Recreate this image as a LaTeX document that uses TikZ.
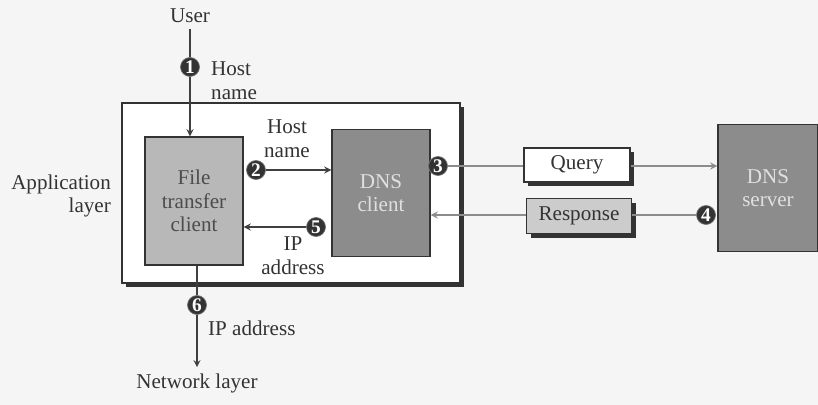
\documentclass[tikz,border=0pt]{standalone}
\usepackage{fontspec}
\setmainfont{Liberation Serif}
\usetikzlibrary{shadows}

\begin{document}
\begin{tikzpicture}[x=0.02cm,y=-0.02cm,
    every node/.style={font=\fontsize{12}{13.5}\selectfont},
    box/.style={draw=black!80, thick, align=center, inner sep=0pt},
    shade/.style={drop shadow={fill=black!80, opacity=1, shadow xshift=2.5pt, shadow yshift=-2.5pt}},
    num/.style={circle, fill=black!80, draw=black!55, text=white, inner sep=0pt, minimum size=0.38cm, font=\fontsize{11}{11}\selectfont\bfseries},
    link/.style={black!75, thick, ->, >=stealth},
    wire/.style={black!45, thick}]
        \fill[black!4] (0,0) rectangle (818,405);
        \useasboundingbox (0,0) rectangle (818,405);
        % application layer box
        \node[box, shade, fill=white, minimum width=6.76cm, minimum height=3.6cm] (app) at (291,193) {};
        \node[align=right, anchor=east, text=black!80] (applbl) at (117,196) {Application\\layer};
        % the three components
        \node[box, fill=black!28, text=black!70, minimum width=1.96cm, minimum height=2.56cm] (ftc) at (194,201) {File\\transfer\\client};
        \node[box, fill=black!45, text=black!12, minimum width=1.96cm, minimum height=2.54cm] (dnsc) at (381,193) {DNS\\client};
        \node[box, fill=black!45, text=black!12, minimum width=2cm, minimum height=2.54cm] (dnss) at (768,188) {DNS\\server};
        % messages
        \node[box, shade, fill=white, text=black!80, minimum width=2.12cm, minimum height=0.68cm] (query) at (577,165) {Query};
        \node[box, shade, fill=black!20, text=black!80, minimum width=2.1cm, minimum height=0.7cm] (resp) at (579,216) {Response};
        % user and network layer
        \node[text=black!80] (user) at (190,16) {User};
        \node[text=black!80] (net) at (197,383) {Network layer};
        % step markers
        \node[num] (n1) at (190,67) {1};
        \node[num] (n2) at (256,170) {2};
        \node[num] (n3) at (438,166) {3};
        \node[num] (n4) at (706,215) {4};
        \node[num] (n5) at (316,227) {5};
        \node[num] (n6) at (197,305) {6};
        % connectors
        \draw[link, -] (user.south) -- (n1.north);
        \draw[link] (n1.south) -- (n1 |- ftc.north);
        \draw[link] (n2.east) -- (n2 -| dnsc.west);
        \draw[link] (n5.west) -- (n5 -| ftc.east);
        \draw[wire] (n3.east) -- (n3 -| query.west);
        \draw[wire, ->, >=stealth] (n3 -| query.east) -- (n3 -| dnss.west);
        \draw[wire] (n4.west) -- (n4 -| resp.east);
        \draw[wire, ->, >=stealth] (n4 -| resp.west) -- (n4 -| dnsc.east);
        \draw[link, -] (n6 |- ftc.south) -- (n6.north);
        \draw[link] (n6.south) -- (net.north);
        % labels
        \node[align=left, anchor=west, text=black!80] (lbl1) at (205,81) {Host\\name};
        \node[align=center, text=black!80] (lbl2) at (287,139) {Host\\name};
        \node[align=center, text=black!80] (lbl5) at (293,256) {IP\\address};
        \node[anchor=west, text=black!80] (lbl6) at (202,328) {IP address};
\end{tikzpicture}
\end{document}
